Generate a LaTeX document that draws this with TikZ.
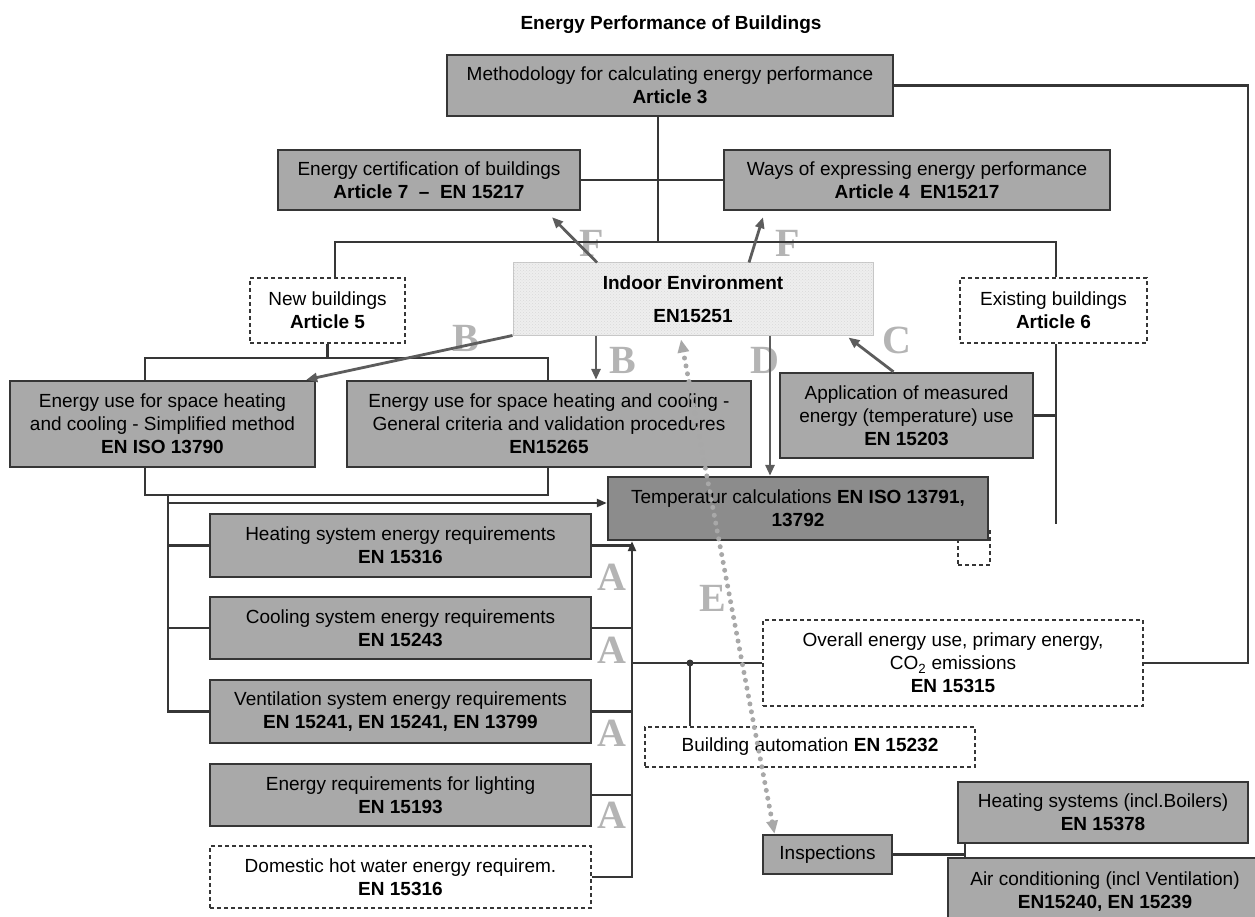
\documentclass[tikz,border=0pt]{standalone}
\usepackage{fontspec}
\setmainfont{Liberation Sans}
\newfontfamily\letterfont{Liberation Serif}
\usetikzlibrary{arrows.meta,patterns}

\definecolor{boxgray}{HTML}{A9A9A9}
\definecolor{tempgray}{HTML}{8C8C8C}
\definecolor{linegray}{HTML}{363636}
\definecolor{arrgray}{HTML}{5C5C5C}
\definecolor{lettergray}{HTML}{B4B4B4}
\definecolor{indoorgray}{HTML}{EEEEEE}

\begin{document}
\begin{tikzpicture}[x=1pt, y=-1pt,
  every node/.style={font=\fontsize{19}{23}\selectfont},
  box/.style={draw=linegray, line width=2.4pt, fill=boxgray, align=center, inner sep=0pt},
  dbox/.style={draw=linegray, line width=2.2pt, dash pattern=on 4pt off 3pt, fill=white, align=center, inner sep=0pt},
  wire/.style={draw=linegray, line width=2.2pt},
  arr/.style={wire, -{Triangle[length=10pt,width=8pt]}},
  link/.style={draw=arrgray, line width=2.8pt, -{Triangle[length=11pt,width=9pt]}},
  edots/.style={draw=gray!68, line width=5pt, line cap=round, dash pattern=on 0pt off 8pt,
    {Triangle[length=13pt,width=11pt]}-{Triangle[length=13pt,width=11pt]}},
  letter/.style={font=\letterfont\bfseries\fontsize{40}{40}\selectfont, text=lettergray, inner sep=0pt}]

\useasboundingbox (0,0) rectangle (1255,917);

\node[font=\bfseries\fontsize{19}{23}\selectfont] (title) at (671,25) {Energy Performance of Buildings};

% -------- letters -----------
\node[letter] (lf1) at (592,243) {F};
\node[letter] (lf2) at (788,243) {F};
\node[letter] (lb1) at (466,338) {B};
\node[letter] (lb2) at (623,360) {B};
\node[letter] (ld) at (765,360) {D};
\node[letter] (lc) at (897,340) {C};
\node[letter] (le) at (713,598) {E};
\node[letter] (la1) at (612,577) {A};
\node[letter] (la2) at (612,650) {A};
\node[letter] (la3) at (612,733) {A};
\node[letter] (la4) at (612,815) {A};

% -------- boxes -----------
\node[box, minimum width=446, minimum height=61] (meth) at (670,85.5) {Methodology for calculating energy performance\\\textbf{Article 3}};
\node[box, minimum width=302, minimum height=60] (cert) at (429,180) {Energy certification of buildings\\\textbf{Article 7~~--~~EN 15217}};
\node[box, minimum width=386, minimum height=60] (ways) at (917,180) {Ways of expressing energy performance\\\textbf{Article 4~~EN15217}};
\node[draw=gray!45, line width=1pt, fill=indoorgray, postaction={pattern=crosshatch dots, pattern color=gray!30},
  align=center, inner sep=0pt, minimum width=360, minimum height=72] (indoor) at (693,299) {\textbf{Indoor Environment}\\[10pt]\textbf{EN15251}};
\node[dbox, minimum width=155, minimum height=65] (newb) at (327.5,310.5) {New buildings\\\textbf{Article 5}};
\node[dbox, minimum width=187, minimum height=65] (exist) at (1053.5,310.5) {Existing buildings\\\textbf{Article 6}};
\node[box, minimum width=305, minimum height=86] (simp) at (162.5,424) {Energy use for space heating\\and cooling - Simplified method\\\textbf{EN ISO 13790}};
\node[box, minimum width=404, minimum height=86] (gen) at (549,424) {Energy use for space heating and cooling -\\General criteria and validation procedures\\\textbf{EN15265}};
\node[box, minimum width=253, minimum height=85] (appl) at (906.5,415.5) {Application of measured\\energy (temperature) use\\\textbf{EN 15203}};
\node[dbox, minimum width=32, minimum height=37] (stub) at (974,546.5) {};
\node[box, fill=tempgray, minimum width=380, minimum height=63] (temp) at (798,508.5) {Temperatur calculations \textbf{EN ISO 13791,}\\\textbf{13792}};
\node[box, minimum width=381, minimum height=63] (heat) at (400.5,545.5) {Heating system energy requirements\\\textbf{EN 15316}};
\node[box, minimum width=381, minimum height=62] (cool) at (400.5,628) {Cooling system energy requirements\\\textbf{EN 15243}};
\node[box, minimum width=381, minimum height=63] (vent) at (400.5,711.5) {Ventilation system energy requirements\\\textbf{EN 15241, EN 15241, EN 13799}};
\node[box, minimum width=381, minimum height=62] (light) at (400.5,795) {Energy requirements for lighting\\\textbf{EN 15193}};
\node[dbox, minimum width=381, minimum height=62] (dhw) at (400.5,877) {Domestic hot water energy requirem.\\\textbf{EN 15316}};
\node[dbox, minimum width=380, minimum height=86] (overall) at (953,663) {Overall energy use, primary energy,\\CO\textsubscript{2} emissions\\\textbf{EN 15315}};
\node[dbox, minimum width=330, minimum height=40] (bacs) at (810,747) {Building automation \textbf{EN 15232}};
\node[box, minimum width=129, minimum height=39] (insp) at (827.5,854.5) {Inspections};
\node[box, minimum width=290, minimum height=61] (hsys) at (1103,812.5) {Heating systems (incl.Boilers)\\\textbf{EN 15378}};
\node[box, minimum width=314, minimum height=67] (aircon) at (1105,891.5) {Air conditioning (incl Ventilation)\\\textbf{EN15240, EN 15239}};

% -------- connectors -----------
\coordinate (tl) at (335,242);
\coordinate (tr) at (1056,242);
\coordinate (bl) at (145,358);
\coordinate (br) at (548,358);
\coordinate (lt) at (168,503);
\coordinate (rt) at (632,877);
\coordinate (rr) at (1248,87);
\coordinate (bj) at (690,663);

\draw[wire] (cert.east) -- (ways.west);
\draw[wire] ([shift={(-12,0)}]meth.south) -- ([shift={(-12,0)}]meth.south |- tl);
\draw[wire] (newb.north -| tl) -- (tl) -- (tr) -- (exist.north -| tr);
\draw[wire] (meth.east) -- (meth.east -| rr) |- (overall.east);
\draw[wire] (newb.south) -- (newb.south |- bl);
\draw[wire] (simp.north -| bl) -- (bl) -- (br) -- (gen.north -| br);
\draw[wire] (simp.south -| bl) -- ++(0,27) -| (gen.south -| br);
\draw[wire] (simp.south -| lt) ++(0,27) |- (vent.west);
\draw[arr] (lt) -- (lt -| temp.west);
\draw[wire] (heat.west) -- (heat.west -| lt);
\draw[wire] (cool.west) -- (cool.west -| lt);
\draw[arr] (dhw.east) -| (rt |- temp.south);
\draw[wire] (heat.east) -- (heat.east -| rt);
\draw[wire] (cool.east) -- (cool.east -| rt);
\draw[wire] (vent.east) -- (vent.east -| rt);
\draw[wire] (light.east) -- (light.east -| rt);
\draw[wire] (overall.west -| rt) -- (overall.west);
\fill[linegray] (bj) circle[radius=3.5pt];
\draw[wire] (bj) -- (bj |- bacs.north);
\draw[wire] (exist.south -| tr) -- ++(0,180);
\draw[wire] (appl.east) -- (appl.east -| tr);
\draw[wire] (insp.east) -- ++(72,0) coordinate (ij);
\draw[wire] (ij |- hsys.south) -- (ij |- aircon.north);

% -------- links to indoor environment -----------
\draw[link] ([shift={(-96,0)}]indoor.north) -- ([shift={(123,6)}]cert.south);
\draw[link] ([shift={(56,0)}]indoor.north) -- ([shift={(-154,6)}]ways.south);
\draw[link] (indoor.south west) -- ([shift={(-10,0)}]simp.north east);
\draw[link] ([shift={(-97,0)}]indoor.south) -- ([shift={(47,0)}]gen.north);
\draw[link] ([shift={(77,0)}]indoor.south) -- ([shift={(-28,0)}]temp.north);
\draw[link] ([shift={(-13,0)}]appl.north) -- ([shift={(-25,2)}]indoor.south east);
\draw[edots] ([shift={(-53,0)}]insp.north) -- ([shift={(-12,4)}]indoor.south);
\end{tikzpicture}
\end{document}
